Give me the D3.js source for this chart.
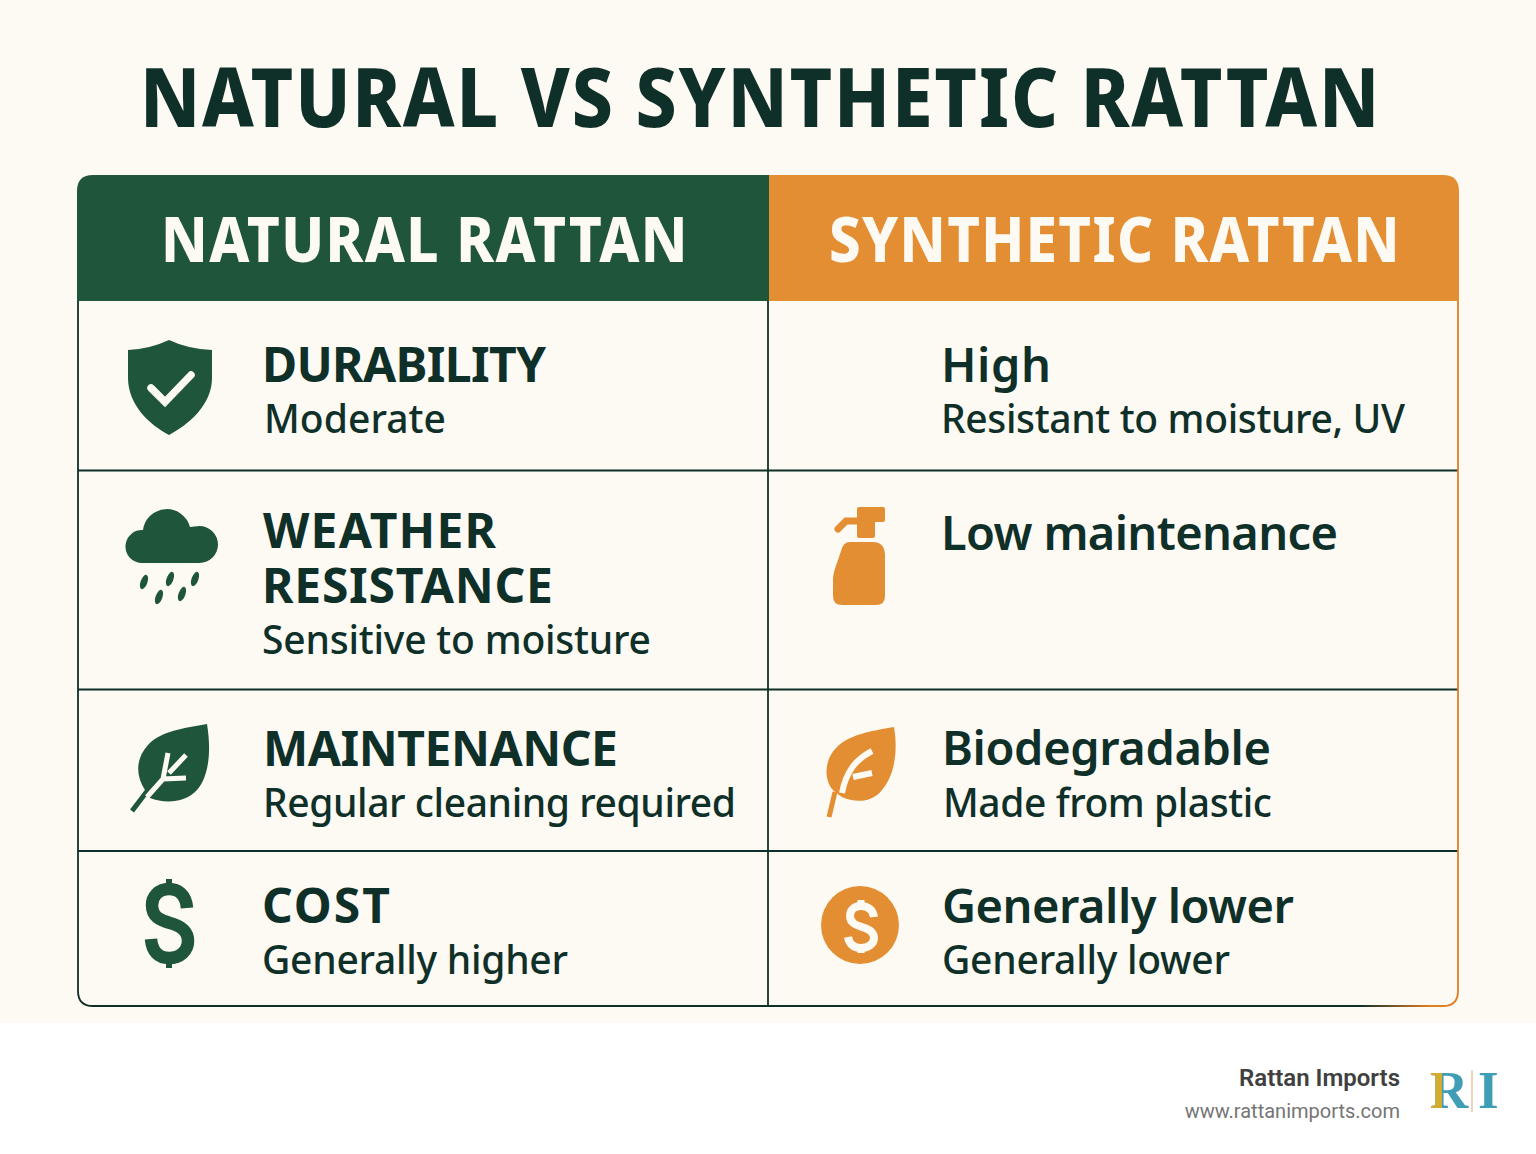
<!DOCTYPE html>
<html>
<head>
<meta charset="utf-8">
<title>Natural vs Synthetic Rattan</title>
<script src="https://cdn.jsdelivr.net/npm/d3@7"></script>
<style>
  html, body { margin: 0; padding: 0; background: #fff; }
  svg { display: block; }
  text { font-family: "Noto Sans", sans-serif; }
</style>
</head>
<body>
<div id="chart"></div>
<script>
/* Contenido */
const title = "NATURAL VS SYNTHETIC RATTAN";
const columns = ["NATURAL RATTAN", "SYNTHETIC RATTAN"];
const leftTitles = [["DURABILITY"], ["WEATHER", "RESISTANCE"], ["MAINTENANCE"], ["COST"]];
const leftDetails = ["Moderate", "Sensitive to moisture", "Regular cleaning required", "Generally higher"];
const rightTitles = ["High", "Low maintenance", "Biodegradable", "Generally lower"];
const rightDetails = ["Resistant to moisture, UV", "", "Made from plastic", "Generally lower"];

/* Layout */
const width = 1536, height = 1154;
const green = "#1f5639", orange = "#e38e33", ink = "#0f2f29", paper = "#fdf9f3", edge = "#df7f22";
const tableX = 78, tableR = 1458, tableTop = 176, tableBottom = 1006, headerBottom = 301, colX = 768;
const rowEdges = [470.5, 689.5, 851];

const svg = d3.select("#chart").append("svg").attr("width", width).attr("height", height);
svg.append("rect").attr("width", width).attr("height", 1023).attr("fill", paper);

function label(txt, x, y, size, weight, fill, len, anchor) {
  const t = svg.append("text").attr("x", x).attr("y", y)
    .attr("font-size", size).attr("font-weight", weight).attr("fill", fill)
    .attr("text-anchor", anchor || "start").text(txt);
  if (len) t.attr("textLength", len);
  return t;
}

// Titulos con letras mas estrechas y espaciadas
function wideLabel(txt, x, y, size, len, fill, spacing) {
  label(txt, x, y, size, 800, fill, len)
    .attr("lengthAdjust", "spacingAndGlyphs")
    .style("letter-spacing", spacing + "px");
}

wideLabel(title, 140, 127, 82, 1241, ink, 2);

// Cabeceras con esquinas redondeadas
const r = 15;
svg.append("path").attr("fill", green)
  .attr("d", `M${tableX - 1},${headerBottom}V${tableTop + r}Q${tableX - 1},${tableTop - 1} ${tableX + r},${tableTop - 1}H${colX + 1}V${headerBottom}Z`);
svg.append("path").attr("fill", orange)
  .attr("d", `M${colX + 1},${headerBottom}V${tableTop - 1}H${tableR - r}Q${tableR + 1},${tableTop - 1} ${tableR + 1},${tableTop + r}V${headerBottom}Z`);
wideLabel(columns[0], 161, 262, 62, 528, paper, 1.5);
wideLabel(columns[1], 829, 262, 62, 572, paper, 1.5);

// Borde y separadores
svg.append("path").attr("fill", "none").attr("stroke", ink).attr("stroke-width", 1.8)
  .attr("d", `M${tableX},${headerBottom}V${tableBottom - r}Q${tableX},${tableBottom} ${tableX + r},${tableBottom}H1370`);
svg.selectAll(".row-line").data(rowEdges).enter().append("line").attr("class", "row-line")
  .attr("x1", tableX).attr("x2", tableR).attr("y1", (d) => d).attr("y2", (d) => d)
  .attr("stroke", ink).attr("stroke-width", 1.8);
svg.append("line").attr("x1", colX).attr("x2", colX).attr("y1", headerBottom).attr("y2", tableBottom)
  .attr("stroke", ink).attr("stroke-width", 1.8);

// El borde de la columna derecha pasa de oscuro a naranja
const defs = svg.append("defs");
const fade = defs.append("linearGradient").attr("id", "edge-fade").attr("gradientUnits", "userSpaceOnUse")
  .attr("x1", 1360).attr("x2", 1430).attr("y1", 0).attr("y2", 0);
fade.append("stop").attr("offset", 0).attr("stop-color", ink);
fade.append("stop").attr("offset", 1).attr("stop-color", edge);
svg.append("path").attr("fill", "none").attr("stroke", "url(#edge-fade)").attr("stroke-width", 1.8)
  .attr("d", `M1360,${tableBottom}H${tableR - r}`);
svg.append("path").attr("fill", "none").attr("stroke", edge).attr("stroke-width", 1.8)
  .attr("d", `M${tableR - r},${tableBottom}Q${tableR},${tableBottom} ${tableR},${tableBottom - r}V${headerBottom}`);

// Textos de la columna izquierda
const leftTitleY = [[382], [548, 603], [766], [923]];
const leftTitleX = [[262], [263, 262], [263], [262]];
const leftTitleLen = [[284], [233, 291], [355], [128]];
const leftDetailY = [433, 654, 817, 974];
const leftDetailX = [264, 262, 263, 262];
const leftDetailLen = [182, 389, 473, 306];

leftTitles.forEach((lines, i) => {
  lines.forEach((line, j) => label(line, leftTitleX[i][j], leftTitleY[i][j], 48, 700, ink, leftTitleLen[i][j]));
  label(leftDetails[i], leftDetailX[i], leftDetailY[i], 39, 500, ink, leftDetailLen[i]);
});

// Textos de la columna derecha
const rightTitleY = [382, 550, 765, 923];
const rightTitleX = [941, 941, 942, 942];
const rightTitleLen = [110, 397, 329, 352];
const rightDetailY = [433, 0, 817, 974];
const rightDetailX = [941, 0, 943, 942];
const rightDetailLen = [464, 0, 329, 288];

rightTitles.forEach((line, i) => {
  label(line, rightTitleX[i], rightTitleY[i], 47, 600, ink, rightTitleLen[i]);
  if (rightDetails[i]) label(rightDetails[i], rightDetailX[i], rightDetailY[i], 39, 500, ink, rightDetailLen[i]);
});

/* Iconos */
const icons = svg.append("g");

// Escudo
icons.append("path").attr("fill", green)
  .attr("d", "M169,340Q150,349 128,350L128,378C128,405 150,425 169,435C188,425 212,405 212,378L212,350Q188,349 169,340Z");
icons.append("path").attr("fill", "none").attr("stroke", paper).attr("stroke-width", 7.5).attr("stroke-linecap", "round")
  .attr("d", "M151,388L165,402L191,375");

// Nube con lluvia
icons.append("path").attr("fill", green)
  .attr("d", "M141,563A16.5,16.5 0 0 1 143,530A24,24 0 0 1 190,527L199.5,526A18.5,18.5 0 0 1 199.5,563Z");
const drops = [[144, 582], [170, 579], [195, 579], [159, 597], [182, 594]];
icons.selectAll(".drop").data(drops).enter().append("ellipse").attr("class", "drop")
  .attr("cx", (d) => d[0]).attr("cy", (d) => d[1]).attr("rx", 3.4).attr("ry", 7.5)
  .attr("transform", (d) => `rotate(20 ${d[0]} ${d[1]})`).attr("fill", green);

// Hoja verde
icons.append("path").attr("fill", green)
  .attr("d", "M207,724C185,728 160,731 148,745C136,758 135,775 145,790L150,798C165,804 185,803 197,790C210,775 211,748 207,724Z");
icons.append("path").attr("fill", "none").attr("stroke", green).attr("stroke-width", 5).attr("d", "M132,811L148,790");
icons.append("path").attr("fill", "none").attr("stroke", paper).attr("stroke-width", 5)
  .attr("d", "M147,797L163,779L186,778M163,779L168,753M169,773L186,755");

// Dolar verde
icons.append("path").attr("fill", "none").attr("stroke", green).attr("stroke-width", 12.5)
  .attr("d", "M187,908C186,895 178,889 169,889C158,889 152,897 152,905C152,917 160,920 170,923C181,926 188,931 188,941C188,951 180,958 169,958C158,958 152,951 151,939");
icons.append("path").attr("fill", "none").attr("stroke", green).attr("stroke-width", 6).attr("d", "M169,879V890M169,957V968");

// Pulverizador
icons.append("path").attr("fill", orange)
  .attr("d", "M859,507H883Q885,507 885,509V520Q885,522 883,522H875V536Q875,538 873,538H859Q857,538 857,536V509Q857,507 859,507Z");
icons.append("path").attr("fill", "none").attr("stroke", orange).attr("stroke-width", 7).attr("stroke-linecap", "round")
  .attr("d", "M858,521H846L838,529");
icons.append("path").attr("fill", orange)
  .attr("d", "M850,542L873,542Q885,542 885,556L885,596Q885,605 876,605L842,605Q833,605 833,596L833,578Q834,570 838,560L841,551Q843,542 850,542Z");

// Hoja naranja
icons.append("path").attr("fill", orange)
  .attr("d", "M894,727C870,731 848,735 836,748C824,760 823,782 835,792L842,797C855,803 872,803 882,790C895,775 898,750 894,727Z");
icons.append("path").attr("fill", "none").attr("stroke", orange).attr("stroke-width", 5).attr("d", "M835,792L829,817");
icons.append("path").attr("fill", "none").attr("stroke", paper).attr("stroke-width", 6)
  .attr("d", "M842,793C846,772 855,760 872,751M853,777L872,773");

// Dolar naranja
icons.append("circle").attr("cx", 860).attr("cy", 925).attr("r", 39).attr("fill", orange);
icons.append("path").attr("fill", "none").attr("stroke", paper).attr("stroke-width", 8)
  .attr("d", "M874,917C873,910 868,906 861,906C853,906 850,911 850,916C850,923 856,925 862,927C869,929 874,932 874,938C874,944 868,948 861,948C853,948 849,943 848,937");
icons.append("path").attr("fill", "none").attr("stroke", paper).attr("stroke-width", 7).attr("d", "M861,900V907M861,947V953");

/* Pie */
label("Rattan Imports", 1400, 1086, 24, 600, "#404040", null, "end").style("font-family", "Roboto");
label("www.rattanimports.com", 1400, 1118, 20, 400, "#757575", null, "end").style("font-family", "Roboto");

// Logo
defs.append("clipPath").attr("id", "gold-r").append("rect").attr("x", 1425).attr("y", 1065).attr("width", 17).attr("height", 50);
const logoLetter = (ch, x, fill, clip) => {
  const t = svg.append("text").attr("x", x).attr("y", 1108).attr("font-size", 53).attr("font-weight", 700)
    .attr("fill", fill).style("font-family", "Liberation Serif").text(ch);
  if (clip) t.attr("clip-path", "url(#gold-r)");
};
logoLetter("R", 1430, "#3f9db5");
logoLetter("R", 1430, "#d4ac2f", true);
logoLetter("I", 1478, "#3f9db5");
svg.append("line").attr("x1", 1472).attr("x2", 1472).attr("y1", 1070).attr("y2", 1112).attr("stroke", "#e3b98a").attr("stroke-width", 1.2);
</script>
</body>
</html>
